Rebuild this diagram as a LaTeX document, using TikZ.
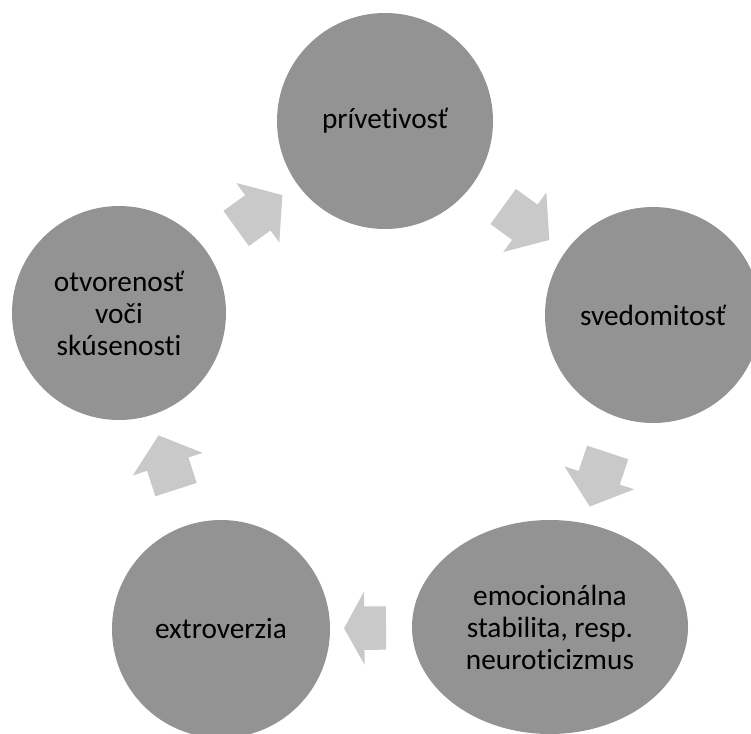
\documentclass[tikz,border=0pt]{standalone}
\usepackage{fontspec}
\setmainfont{Carlito}[Ligatures={NoCommon,NoContextual}]
\usetikzlibrary{shapes.geometric,shapes.arrows}
\definecolor{circfill}{RGB}{147,147,147}
\definecolor{arrfill}{RGB}{201,201,201}
\begin{document}
\begin{tikzpicture}[x=1pt,y=-1pt,
  bubble/.style={fill=circfill, draw=none, inner sep=0pt, align=center,
    font=\fontsize{29.3}{32}\selectfont, text=black},
  roundbubble/.style={bubble, circle},
  ovalbubble/.style={bubble, ellipse},
  cyclearrow/.style={single arrow, fill=arrfill, draw=none, inner xsep=0pt,
    inner ysep=21.5pt, minimum height=57pt, single arrow head extend=15pt,
    single arrow tip angle=101, sloped, allow upside down},
  shortarrow/.style={cyclearrow, minimum height=42pt, single arrow tip angle=122}]
\useasboundingbox (0,0) rectangle (751,733);
\clip (0,0) rectangle (751,733);
\node[roundbubble, minimum size=216pt] (a) at (385,121) {prívetivosť};
\node[roundbubble, minimum size=216pt] (b) at (653,315) {svedomitosť};
\node[ovalbubble, minimum width=276pt, minimum height=214pt] (c) at (550,627) {emocionálna\\stabilita, resp.\\neuroticizmus};
\node[roundbubble, minimum size=218pt] (d) at (221,629) {extroverzia};
\node[roundbubble, minimum size=214pt] (e) at (119,313) {otvorenosť\\voči\\skúsenosti};
\path (a.center) -- node[cyclearrow, pos=0.5] (ab) {} (b.center);
\path (b.center) -- node[cyclearrow, pos=0.5] (bc) {} (c.center);
\path (c.center) -- node[shortarrow, pos=0.544] (cd) {} (d.center);
\path (d.center) -- node[cyclearrow, pos=0.5] (de) {} (e.center);
\path (e.center) -- node[cyclearrow, pos=0.5] (ea) {} (a.center);
\end{tikzpicture}
\end{document}
